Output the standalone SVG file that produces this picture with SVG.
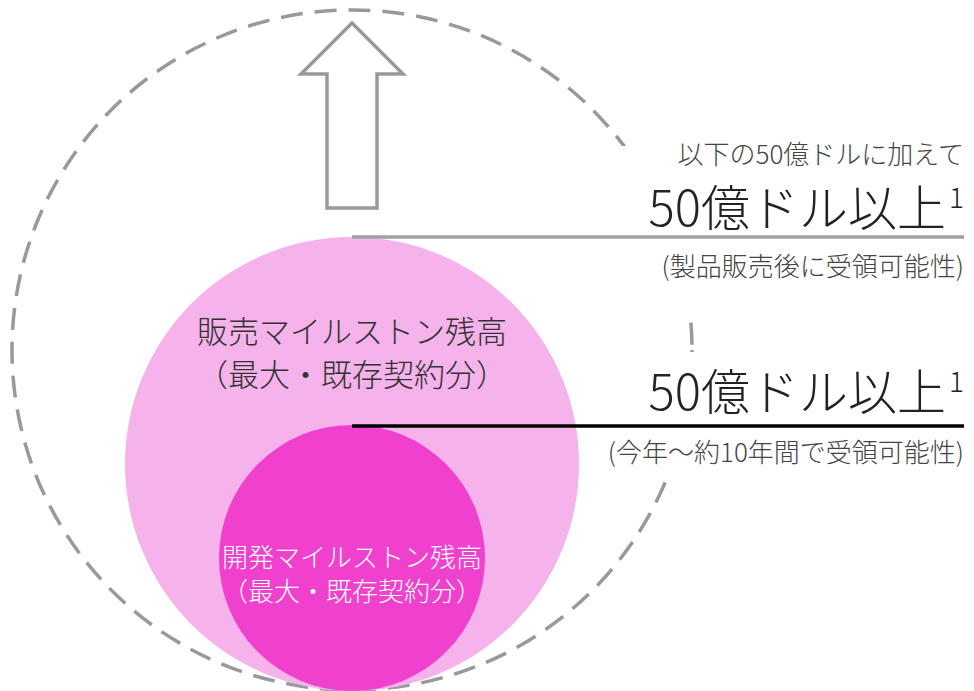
<svg xmlns="http://www.w3.org/2000/svg" width="974" height="691" viewBox="0 0 974 691">
<style>
text{font-family:"Noto Sans CJK JP","Noto Sans",sans-serif;font-weight:300}
.dash{fill:none;stroke:#999;stroke-width:3.5;stroke-dasharray:22 12}
.mask{fill:#fff}
.big{font-size:49px;fill:#222;font-weight:200;text-anchor:end}
.sup{font-size:28px;fill:#222;text-anchor:end;font-weight:200}
.small{font-size:26px;fill:#444;text-anchor:end}
.lbl{font-size:31px;fill:#333;text-anchor:middle}
.lbl2{font-size:26px;fill:#fff;text-anchor:middle}
</style>
<rect width="974" height="691" fill="#fff"/>
<g id="outer">
<circle class="dash" cx="352" cy="350" r="340"/>
<rect class="mask" x="618" y="146" width="356" height="166"/>
<rect class="mask" x="598" y="352" width="376" height="126"/>
</g>
<g id="sales">
<circle cx="352" cy="464" r="227" fill="#F6B2EA"/>
<text class="lbl" x="352" y="343">販売マイルストン残高</text>
<text class="lbl" x="352" y="386">（最大・既存契約分）</text>
</g>
<g id="dev">
<circle cx="352" cy="558" r="133" fill="#F040CE"/>
<text class="lbl2" x="352" y="567">開発マイルストン残高</text>
<text class="lbl2" x="352" y="601">（最大・既存契約分）</text>
</g>
<g id="connectors">
<line x1="352" y1="237" x2="964" y2="237" stroke="#a0a0a0" stroke-width="3.5"/>
<line x1="352" y1="426" x2="964" y2="426" stroke="#000" stroke-width="3.5"/>
</g>
<g id="arrow">
<polygon points="352,23 403,74 377,74 377,208 327,208 327,74 301,74" fill="#fff" stroke="#999" stroke-width="3.5" stroke-linejoin="miter"/>
</g>
<g id="label-top">
<text class="small" x="964" y="164">以下の50億ドルに加えて</text>
<text class="big" x="946" y="226">50億ドル以上</text>
<text class="sup" x="964" y="208">1</text>
<text class="small" x="964" y="276">(製品販売後に受領可能性)</text>
</g>
<g id="label-bottom">
<text class="big" x="946" y="410">50億ドル以上</text>
<text class="sup" x="964" y="392">1</text>
<text class="small" x="964" y="462">(今年〜約10年間で受領可能性)</text>
</g>
</svg>
